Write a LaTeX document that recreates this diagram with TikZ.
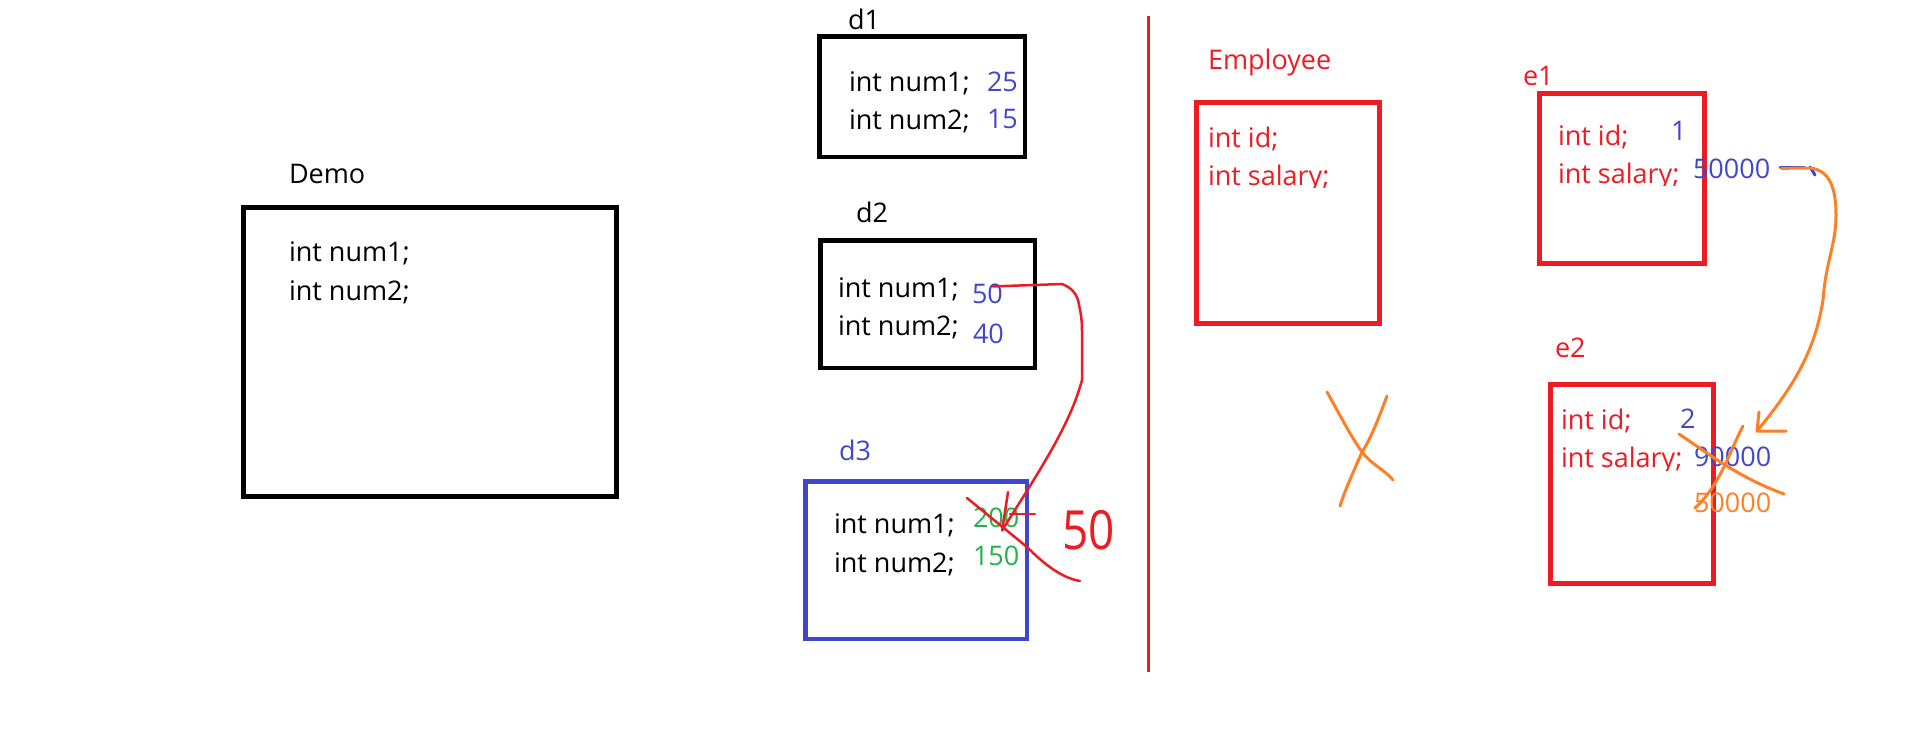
\documentclass[tikz,border=0pt]{standalone}
\usepackage{fontspec}
\setmainfont{Open Sans}
\usetikzlibrary{calc}
\definecolor{pred}{HTML}{ED1C24}
\definecolor{pblue}{HTML}{3F48CC}
\definecolor{pgreen}{HTML}{22B14C}
\definecolor{porange}{HTML}{FF7F27}
\tikzset{
  boxk/.style={draw=black, line width=4.5pt, inner sep=0pt, outer sep=0pt},
  boxb/.style={draw=pblue, line width=4.5pt, inner sep=0pt, outer sep=0pt},
  boxr/.style={draw=pred, line width=5pt, inner sep=0pt, outer sep=0pt},
  txt/.style={anchor=base west, inner sep=0pt, outer sep=0pt, font=\fontsize{27}{32}\selectfont},
  redpen/.style={draw=pred, line width=2.5pt, line cap=round, line join=round},
  orpen/.style={draw=porange, line width=3pt, line cap=round, line join=round},
  bluepen/.style={draw=pblue, line width=3pt, line cap=round},
  sepline/.style={draw=pred, line width=3pt}
}
\begin{document}
\begin{tikzpicture}[x=1pt,y=-1pt]
\useasboundingbox[fill=white] (0,0) rectangle (1914,734);

% ---- Demo ----
\node[boxk, minimum width=373pt, minimum height=289pt] (demo) at (430,352) {};
\node[txt] (demolbl) at (289,183) {Demo};
\node[txt] (demo1) at (289,261) {int num1;};
\node[txt] (demo2) at (289,300) {int num2;};

% ---- d1 ----
\node[boxk, minimum width=205.5pt, minimum height=120.5pt] (d1) at (922,96.5) {};
\node[txt] (d1lbl) at (848,29) {d1};
\node[txt] (d1a) at (849,91) {int num1;};
\node[txt] (d1b) at (849,129) {int num2;};
\node[txt, text=pblue] (d1v1) at (987,91) {25};
\node[txt, text=pblue] (d1v2) at (987,128) {15};

% ---- d2 ----
\node[boxk, minimum width=214.5pt, minimum height=127.5pt] (d2) at (927.5,304) {};
\node[txt] (d2lbl) at (856,222) {d2};
\node[txt] (d2a) at (838,297) {int num1;};
\node[txt] (d2b) at (838,335) {int num2;};
\node[txt, text=pblue] (d2v1) at (972,303) {50};
\node[txt, text=pblue] (d2v2) at (973,343) {40};

% ---- d3 ----
\node[boxb, minimum width=221.5pt, minimum height=157.5pt] (d3) at (916,560) {};
\node[txt, text=pblue] (d3lbl) at (839,460) {d3};
\node[txt] (d3a) at (834,533) {int num1;};
\node[txt] (d3b) at (834,572) {int num2;};
\node[txt, text=pgreen] (d3v1) at (973,527) {200};
\node[txt, text=pgreen] (d3v2) at (973,565) {150};

% red annotations on d3
\coordinate (rtip) at ($(d3v1.south)+(6,3)$);
\draw[redpen] ($(d2v1.north east)+(-10,3)$) -- (1062,284)
  .. controls (1073,288) and (1078,296) .. (1079,305)
  .. controls (1082,318) and (1082,325) .. (1082,335) -- (1082,380)
  .. controls (1070,425) and (1040,470) .. (rtip);
\draw[redpen] (1008,492) -- (rtip);
\draw[redpen] (1010,514) -- (1035,514);
\draw[redpen] (967,498) -- (1027,547) .. controls (1045,565) and (1062,578) .. (1080,581);
\node[anchor=base west, inner sep=0pt, text=pred, font=\fontsize{54}{60}\selectfont, xscale=0.85] (hand50) at (1062,549) {50};

% ---- separator ----
\coordinate (septop) at (1148,16);
\coordinate (sepbot) at (1148,672);
\draw[sepline] (septop) -- (sepbot);

% ---- Employee ----
\node[boxr, minimum width=183pt, minimum height=221pt] (emp) at (1288,213) {};
\node[txt, text=pred] (emplbl) at (1208,69) {Employee};
\node[txt, text=pred] (empa) at (1208,147) {int id;};
\begin{scope}
\clip (1200,150) rectangle (1380,187);
\node[txt, text=pred] (empb) at (1208,185) {int salary;};
\end{scope}

% orange X in the middle
\coordinate (xc) at (1362,452);
\draw[orpen] (1327,392) .. controls (1340,415) and (1350,435) .. (xc) .. controls (1372,465) and (1385,470) .. (1393,480);
\draw[orpen] (1387,396) .. controls (1378,420) and (1370,440) .. (xc) .. controls (1352,475) and (1345,490) .. (1340,506);

% ---- e1 ----
\node[boxr, minimum width=165pt, minimum height=170pt] (e1) at (1622,178.5) {};
\node[txt, text=pred] (e1lbl) at (1523,85) {e1};
\node[txt, text=pred] (e1a) at (1558,145) {int id;};
\begin{scope}
\clip (1550,150) rectangle (1720,185);
\node[txt, text=pred] (e1b) at (1558,183) {int salary;};
\end{scope}
\node[txt, text=pblue] (e1v1) at (1671,140) {1};
\node[txt, text=pblue] (e1v2) at (1693,178) {50000};

% ---- e2 ----
\node[boxr, minimum width=163pt, minimum height=199pt] (e2) at (1632,484) {};
\node[txt, text=pred] (e2lbl) at (1555,357) {e2};
\node[txt, text=pred] (e2a) at (1561,429) {int id;};
\begin{scope}
\clip (1555,435) rectangle (1720,470);
\node[txt, text=pred] (e2b) at (1561,467) {int salary;};
\end{scope}
\node[txt, text=pblue] (e2v1) at (1680,428) {2};
\node[txt, text=pblue] (e2v2) at (1694,466) {90000};
\node[txt, text=porange] (e2v3) at (1694,512) {50000};

% orange connector e1 -> e2
\coordinate (otip) at (1757,431);
\draw[bluepen] ($(e1v2.east)+(10,-1)$) -- ++(24,0);
\draw[bluepen] (1810,167) -- (1815,175);
\draw[orpen] ($(e1v2.east)+(11,0)$) -- (1810,168)
  .. controls (1828,170) and (1836,185) .. (1836,215)
  .. controls (1836,245) and (1826,260) .. (1823,300)
  .. controls (1815,350) and (1795,385) .. (otip);
\draw[orpen] (1759,412) -- (otip) -- (1786,431);
% orange X on 90000
\draw[orpen] (1679,434) .. controls (1710,455) and (1740,478) .. (1784,494);
\draw[orpen] (1743,426) .. controls (1728,455) and (1720,485) .. (1695,508);
\end{tikzpicture}
\end{document}
